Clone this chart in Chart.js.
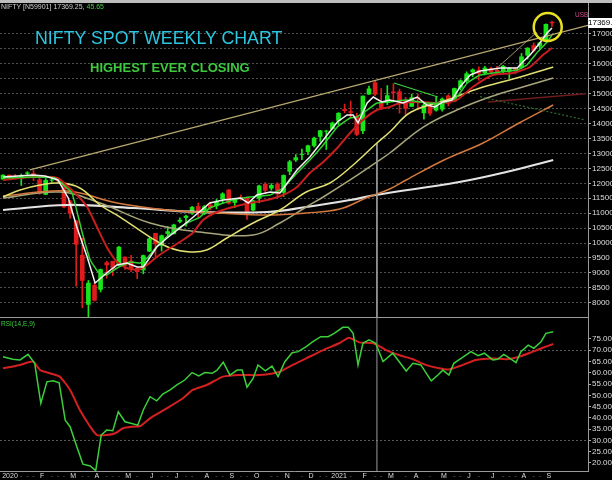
<!DOCTYPE html>
<html>
<head>
<meta charset="utf-8">
<script src="https://cdn.jsdelivr.net/npm/chart.js@4.4.0/dist/chart.umd.min.js"></script>
<style>
  body { margin: 0; background: #000; width: 612px; height: 480px; overflow: hidden; position: relative; font-family: "Liberation Sans", Arial, sans-serif; }
  canvas { position: absolute; left: 0; }
  #price { top: 3px; }
  #rsi { top: 318px; }
  .txt { position: absolute; white-space: nowrap; }
  #topbar { position: absolute; left: 0; top: 0; width: 612px; height: 3px; background: #bdbdbd; }
  #sep { position: absolute; left: 0; top: 317px; width: 588px; height: 1px; background: #9a9a9a; }
  #hdr { left: 1px; top: 3px; font-size: 7px; color: #cfcfcf; }
  #hdr span { color: #3fcf3f; }
  #title { left: 35px; top: 29px; font-size: 17.8px; line-height: 18.5px; color: #2cc6e0; }
  #sub { left: 90px; top: 61px; font-size: 13px; line-height: 13px; font-weight: bold; color: #3ec83e; }
  #rsiLbl { left: 1px; top: 320px; font-size: 6.5px; color: #3fcf3f; }
  #usb { left: 575px; top: 11px; font-size: 6.5px; color: #d04a8a; }
  #lastBox { left: 588px; top: 18px; width: 24px; height: 10px; background: #fff; color: #000; font-size: 8px; line-height: 10px; overflow: hidden; }
</style>
</head>
<body>
<div id="topbar"></div>
<canvas id="price" width="612" height="315"></canvas>
<canvas id="rsi" width="612" height="162"></canvas>
<div id="sep"></div>
<div class="txt" id="hdr">NIFTY [N59901] 17369.25, <span>45.65</span></div>
<div class="txt" id="title">NIFTY SPOT WEEKLY CHART</div>
<div class="txt" id="sub">HIGHEST EVER CLOSING</div>
<div class="txt" id="rsiLbl">RSI(14,E,9)</div>
<div class="txt" id="usb">USB</div>
<div class="txt" id="lastBox">17369.25</div>
<script>
// ===== DATA (week index 0 = 20 Dec 2019) =====
const candleOpen = [12140,12273,12247,12170,12330,12329,12120,11627,12102,12131,12012,11387,10742,9587,7945,8584,8446,9341,9390,9259,9533,9400,9159,9099,9726,10326,9919,10318,10312,10723,10851,10999,11225,10992,11270,11248,11472,11777,11359,11533,11504,11100,11504,11973,11839,11981,11697,12399,12780,12960,13062,13264,13567,13741,13830,14104,14474,14400,14239,13758,14983,15371,14675,14702,15064,15067,14737,14574,14880,14356,14587,14449,14481,14928,14756,15211,15437,15725,15791,15693,15839,15793,15759,15754,15853,15874,16288,16614,16592,16775,17390];
const candleHigh = [12294,12287,12294,12311,12389,12430,12216,12160,12231,12159,12012,11433,10751,10159,8749,8678,9131,9390,9390,9889,9533,9585,9178,9598,10177,10328,10272,10553,10631,10847,10933,11225,11341,11256,11374,11460,11686,11794,11493,11618,11535,11428,11939,12025,11989,12025,12280,12770,12963,13145,13280,13549,13773,13777,14050,14367,14653,14754,14350,14925,15257,15432,15176,15273,15336,15155,14878,14984,14984,14697,14592,14890,14863,14967,15190,15469,15734,15835,15901,15915,15893,15915,15952,15882,15862,16349,16543,16701,16722,17340,17429];
const candleLow = [12120,12151,12160,11929,12270,12087,11633,11614,12030,12012,11175,10827,8555,7832,7511,8055,8360,8821,8909,9250,9116,9043,8806,8968,9706,9544,9729,10194,10299,10677,10562,10957,10882,10950,11112,11144,11326,11303,11185,11433,10790,11074,11348,11661,11769,11535,11557,12288,12730,12790,12962,13214,13403,13131,13810,13954,14357,14222,13597,13661,14977,14936,14467,14636,14745,14350,14264,14573,14459,14151,14273,14417,14416,14591,14730,15126,15373,15566,15450,15632,15661,15635,15707,15513,15666,15834,16162,16395,16510,16765,17254];
const candleClose = [12272,12246,12226,12257,12352,12248,11662,12098,12113,12080,11202,10989,9955,8745,8660,8084,9111,9267,9154,9860,9251,9137,9039,9580,10142,9972,10244,10383,10607,10768,10901,11194,11073,11214,11178,11372,11647,11333,11464,11505,11050,11417,11914,11762,11930,11642,12264,12720,12859,12969,13258,13514,13761,13749,14018,14347,14433,14372,13635,14924,15163,14982,14529,14938,15031,14744,14507,14867,14835,14617,14341,14631,14823,14677,15175,15435,15670,15799,15683,15860,15722,15690,15923,15856,15763,16238,16529,16451,16705,17324,17369];

// moving averages: [week, price]
const maFast = [[0,12211],[4.9,12278],[6.9,12245],[9,12111],[10.7,11508],[12.1,10536],[13.8,9532],[15.1,8661],[17,8996],[18.7,9264],[20.3,9331],[22,9197],[23,9197],[23.8,9432],[25.2,9867],[26.9,10168],[29,10503],[31,10838],[33.9,11340],[36.1,11441],[38.9,11508],[40.2,11340],[41.6,11608],[43.8,11709],[45.4,11675],[46.6,12010],[48.2,12446],[50.3,12881],[52.5,13450],[54.8,14053],[56.4,14287],[57.4,14287],[58.2,14020],[59.7,14689],[60.7,14890],[62.1,14723],[63.4,14790],[65.6,14689],[67.9,14890],[69.5,14622],[70.8,14555],[72.1,14723],[73.6,14790],[74.9,15225],[76.6,15627],[78.2,15761],[81.5,15861],[84.3,15861],[85.2,16062],[86.4,16297],[88,16699],[89.2,17034],[90,17201]];
const maGreen = [[0,12178],[4.9,12211],[8.5,12178],[11.3,11675],[13,10336],[14.3,9432],[15.6,9030],[17,8929],[18.7,9164],[20.8,9365],[22.5,9331],[23.8,9532],[25.7,10001],[27.9,10370],[30.2,10670],[32.3,10871],[33.9,11173],[37.7,11441],[40.5,11541],[43.8,11608],[45.9,11843],[48.2,12345],[50.3,12780],[52.5,13283],[54.8,13886],[56.9,14187],[58,14220],[59.7,14455],[61.3,14689],[63.4,14723],[66.2,14790],[69.5,14689],[72.1,14689],[74.4,14890],[76.1,15359],[78.2,15627],[81.5,15727],[84.3,15794],[85.9,15962],[87.5,16364],[89.2,16732],[90,16967]];
const maRed = [[0,12111],[4.9,12211],[8.9,12178],[12.1,11608],[13.8,11206],[15.4,10536],[17,9867],[18.7,9365],[20.3,9164],[22,9097],[23.6,9264],[25.2,9532],[26.9,9767],[29,10034],[31.1,10336],[32.8,10771],[35.1,11039],[37.7,11206],[40.5,11340],[43.3,11441],[45.9,11608],[48.2,11876],[50.3,12345],[52.5,12714],[54.8,13182],[56.9,13685],[59,14120],[61.3,14455],[63.4,14555],[65.1,14689],[68.4,14723],[71.6,14689],[74.4,14790],[77,15225],[80.3,15627],[83.6,15694],[86.4,15895],[88.5,16297],[90,16531]];
const maYellow = [[0,11541],[2.8,11776],[6.1,11943],[9.3,12010],[12.6,11843],[15.9,11273],[19.2,10871],[24.1,10201],[27.4,9833],[30.7,9699],[33.4,9766],[36.7,10168],[41,10670],[45.4,11106],[49.7,11709],[53.6,12010],[57.4,12613],[61.3,13350],[63.4,13718],[66.9,14388],[73.3,14823],[78.2,15192],[83.6,15493],[90.2,15895]];
const maKhaki = [[0,11508],[9.3,11708],[15.9,11340],[24.1,10670],[32.3,10369],[41,10269],[45.4,10670],[49.7,11206],[52.5,11541],[56.9,12111],[61.3,12714],[63.4,13015],[68.9,13885],[74.4,14455],[79.8,14890],[85.2,15225],[90.2,15526]];
const maOrange = [[0,11575],[10.5,11742],[18.7,11340],[26.9,11106],[35.1,11005],[43.3,10938],[49.7,11005],[55.2,11139],[59.5,11508],[63.4,11809],[66.1,12111],[72.3,12780],[78.7,13350],[84.6,14019],[90.2,14622]];
const ma200 = [[0,11106],[10.5,11273],[21.3,11173],[32.3,11039],[43.3,11039],[49.7,11206],[56.9,11441],[61.1,11608],[74.8,12043],[82.5,12378],[90.2,12780]];

// trend lines drawn on the chart: [week, price]
const trendLong = [[4.4,12450],[95.9,17290]];
const trendGreen = [[64.1,15359],[71.3,14890]];
const trendDotted = [[78.2,14900],[95.5,14120]];
const trendMaroon = [[79.5,14723],[95.5,15000]];
const trendThin = [[81.2,15900],[87.5,17060]];
const crossWeek = 61.3;
const crossTop = 13350;
const circleAt = [89.3, 17234];

// RSI(14) and its 9 EMA: [week, value]
const rsiLine = [[0,67.1],[1.6,66],[2.8,65.7],[4.1,68.2],[5.2,64.2],[6.2,46.5],[7.2,56],[8.2,56.5],[9.2,55.6],[10.2,39],[11,36.1],[12.1,27.2],[13.1,19.5],[14.3,18.7],[15.2,16.6],[16.1,32.4],[17,34.6],[18,34.3],[18.9,42.7],[20,38.3],[21.1,37.5],[22.1,36.8],[23,43.5],[24.1,49.4],[25.2,47.6],[26.2,50.6],[27.4,52.4],[28.5,54.6],[29.8,56.8],[31,60.1],[32.1,58.6],[33.1,60.1],[34.3,59.8],[35.1,61.2],[36.1,64.7],[37.2,59],[38.4,61.2],[39.2,61.2],[40,53.6],[41,57.5],[41.8,63.5],[43,60.9],[44.1,63],[45.1,58.3],[46.2,64.9],[47.4,68.9],[48.4,69.4],[49.7,71.6],[50.8,73.8],[52.1,76],[53.3,76],[54.3,77.5],[55.7,80.2],[56.6,80.2],[57.4,77.5],[58.2,63.5],[59,73.1],[60,74.6],[61.1,73.1],[62.3,65],[63.9,68.7],[66.1,60.8],[67.2,64.2],[68.5,63.5],[70.2,56.4],[71.3,59],[72.1,61.2],[73.1,59],[73.9,64.2],[75.1,66.4],[76.7,69.4],[77.9,67.6],[78.9,68.7],[80.3,65.7],[81.1,66],[82.1,68.2],[83.1,66.4],[84.1,64.5],[84.9,69.4],[86.1,72.3],[87,70.9],[88.2,73.8],[89,77.5],[90.2,78.2]];
const rsiSignal = [[0,62],[2.8,63.5],[4.9,65],[6.1,61.2],[7.7,59.8],[9.3,58.3],[11,52.4],[12.6,43.5],[14.3,36.1],[15.4,32.4],[17,32.4],[18.4,33.2],[19.7,35.4],[21.3,36.1],[22.5,36.4],[24.1,39.8],[26.9,44.3],[29.5,48.7],[31.1,52.4],[33.4,54.6],[36.1,58.3],[38.9,59],[42.1,59],[45.4,60.5],[47.5,63.5],[49.7,66.4],[52.5,70.1],[55.1,73.1],[56.7,75.6],[58.4,73.5],[60.7,73.1],[62.8,70.1],[64.9,67.9],[67.2,66],[69.3,63.5],[71.5,62],[73.1,61.5],[75.4,63.5],[77.5,65.7],[80.3,66.4],[82.5,66],[84.6,67.1],[86.9,69.4],[88.5,71.1],[90.2,72.8]];

// axes
const priceTicks = [8000,8500,9000,9500,10000,10500,11000,11500,12000,12500,13000,13500,14000,14500,15000,15500,16000,16500,17000];
const rsiTicks = [20,25,30,35,40,45,50,55,60,65,70,75];
const rsiGuides = [30,70];
const monthTickPos = [1.15,6.4,11.5,15.4,20.5,24.4,28.5,33.4,37.5,41.6,46.6,50.5,55.1,59.3,63.6,67.7,72.3,76.4,80.3,85.4,89.5];
const monthTickLbl = ['2020','F','M','A','M','J','J','A','S','O','N','D','2021','F','M','A','M','J','J','A','S'];

// ===== SETUP =====
const xMin = -0.49, xMax = 95.9;
const priceMin = 7489, priceMax = 18038;
const rsiMin = 16.45, rsiMax = 84.31;
const up = '#19e619', down = '#e01b1b';
const axisFont = { size: 8, family: '"Liberation Sans", Arial, sans-serif' };

const pts = arr => arr.map(p => ({ x: p[0], y: p[1] }));
const isUp = candleClose.map((c, i) => c >= candleOpen[i]);

function line(data, color, width, order, extra) {
  return Object.assign({
    type: 'line', data: pts(data), borderColor: color, borderWidth: width,
    pointRadius: 0, fill: false, tension: 0, order
  }, extra || {});
}

const circlePlugin = {
  id: 'circle',
  afterDatasetsDraw(chart) {
    const { ctx, scales: { x, y } } = chart;
    ctx.save();
    ctx.strokeStyle = '#e8e020';
    ctx.lineWidth = 2.5;
    ctx.beginPath();
    ctx.arc(x.getPixelForValue(circleAt[0]), y.getPixelForValue(circleAt[1]), 14, 0, Math.PI * 2);
    ctx.stroke();
    ctx.restore();
  }
};

// ===== PRICE PANEL =====
new Chart(document.getElementById('price'), {
  type: 'bar',
  data: {
    datasets: [
      line(ma200, '#e4e4e4', 2.2, 9, { tension: 0.4 }),
      line(maOrange, '#d2783c', 1.5, 8, { tension: 0.4 }),
      line(maKhaki, '#a8a67a', 1.5, 8, { tension: 0.4 }),
      line(maYellow, '#e2e070', 1.5, 7, { tension: 0.4 }),
      line(trendLong, '#b9a872', 1.3, 7),
      line(trendDotted, '#2e6b2e', 1.2, 7, { borderDash: [2, 2] }),
      line(trendMaroon, '#6e1c1c', 1.5, 7),
      line(trendThin, '#9c8f66', 1, 7),
      line([[crossWeek, crossTop], [crossWeek, priceMin]], '#9a9a9a', 1, 7),
      {
        type: 'bar', order: 21, grouped: false, barThickness: 1,
        data: candleLow.map((l, i) => ({ x: i, y: [l, candleHigh[i]] })),
        backgroundColor: isUp.map(u => u ? up : down), borderWidth: 0
      },
      {
        type: 'bar', order: 20, grouped: false, barThickness: 4,
        data: candleOpen.map((o, i) => ({ x: i, y: [o, candleClose[i]] })),
        backgroundColor: isUp.map(u => u ? up : down), borderWidth: 0
      },
      line(maRed, '#c81e1e', 2, 3, { tension: 0.2 }),
      line(maGreen, '#2fd32f', 1.5, 2, { tension: 0.1 }),
      line(trendGreen, '#3ad13a', 1.2, 2),
      line(maFast, '#f2f2f2', 1.5, 1)
    ]
  },
  options: {
    responsive: false, animation: false, devicePixelRatio: 1,
    layout: { padding: 0, autoPadding: false },
    plugins: { legend: { display: false }, tooltip: { enabled: false } },
    scales: {
      x: { type: 'linear', min: xMin, max: xMax, offset: false, display: false },
      y: {
        position: 'right', min: priceMin, max: priceMax,
        afterFit(s) { s.width = 24; s.paddingTop = 0; s.paddingBottom = 0; },
        afterBuildTicks(s) { s.ticks = priceTicks.map(v => ({ value: v })); },
        ticks: { color: '#dedede', font: axisFont, padding: 1, callback: v => String(v) },
        grid: { color: '#4e4e4e', tickLength: 3, tickColor: '#aaa' },
        border: { display: true, color: '#9a9a9a', dash: [2, 2] }
      }
    }
  },
  plugins: [circlePlugin]
});

// ===== RSI PANEL =====
const xTicks = monthTickPos.map((p, i) => ({ value: p, label: monthTickLbl[i] }));
candleClose.forEach((c, i) => {
  if (monthTickPos.every(p => Math.abs(p - i) > 1.4)) xTicks.push({ value: i, label: '-' });
});
xTicks.sort((a, b) => a.value - b.value);

new Chart(document.getElementById('rsi'), {
  type: 'line',
  data: {
    datasets: [
      line([[crossWeek, rsiMin], [crossWeek, rsiMax]], '#9a9a9a', 1, 5),
      line(rsiSignal, '#d42020', 2, 2, { tension: 0.2 }),
      line(rsiLine, '#3ccf3c', 1.5, 1)
    ]
  },
  options: {
    responsive: false, animation: false, devicePixelRatio: 1,
    layout: { padding: 0, autoPadding: false },
    plugins: { legend: { display: false }, tooltip: { enabled: false } },
    scales: {
      x: {
        type: 'linear', min: xMin, max: xMax, offset: false, position: 'bottom',
        afterFit(s) { s.height = 9; s.paddingLeft = 0; s.paddingRight = 0; },
        afterBuildTicks(s) { s.ticks = xTicks.map(t => ({ value: t.value })); },
        ticks: {
          autoSkip: false, maxRotation: 0, padding: 1,
          font: { size: 7, family: '"Liberation Sans", Arial, sans-serif' },
          color: c => (c.tick && c.tick.label === '-') ? '#6a6a6a' : '#dedede',
          callback: (v, i) => xTicks[i].label
        },
        grid: { display: false, drawTicks: false },
        border: { display: true, color: '#9a9a9a' }
      },
      y: {
        position: 'right', min: rsiMin, max: rsiMax,
        afterFit(s) { s.width = 24; s.paddingTop = 0; s.paddingBottom = 0; },
        afterBuildTicks(s) { s.ticks = rsiTicks.map(v => ({ value: v })); },
        ticks: { color: '#dedede', font: axisFont, padding: 1, callback: v => v.toFixed(2) },
        grid: {
          color: c => rsiGuides.includes(c.tick && c.tick.value) ? '#5a5a5a' : 'rgba(0,0,0,0)',
          tickLength: 3, tickColor: '#aaa'
        },
        border: { display: true, color: '#9a9a9a', dash: [2, 2] }
      }
    }
  }
});
</script>
</body>
</html>
